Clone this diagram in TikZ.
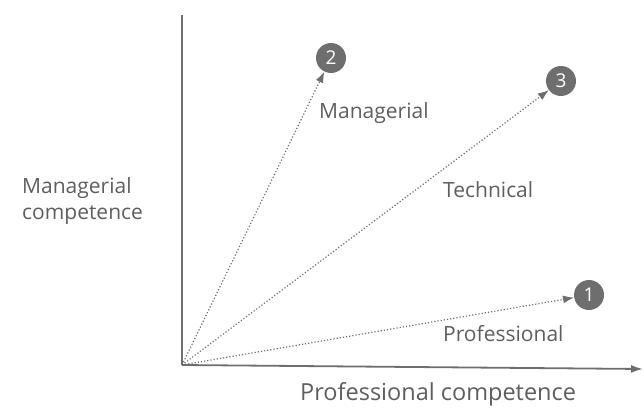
\documentclass[tikz,border=0pt]{standalone}
\usepackage{fontspec}
\setmainfont{Open Sans}
\usetikzlibrary{arrows.meta}
\definecolor{ax}{HTML}{6E6E6E}
\definecolor{txt}{HTML}{5E5E5E}
\begin{document}
\begin{tikzpicture}[x=1pt,y=-1pt,
  lbl/.style={text=txt,font=\fontsize{21}{26}\selectfont,inner sep=0pt},
  num/.style={circle,fill=ax,text=white,minimum size=30pt,inner sep=0pt,font=\fontsize{19}{19}\selectfont},
  vec/.style={draw=ax,line width=1.2pt,dotted,-{Latex[length=11pt,width=8pt]}},
  axis/.style={draw=ax,line width=1.8pt}]
\useasboundingbox (0,0) rectangle (644,409);
\coordinate (o) at (182,365);
\coordinate (top) at (182,15);
\coordinate (xend) at (643,369);
\node[num] (n2) at (331,58) {2};
\node[num] (n3) at (561,81) {3};
\node[num] (n1) at (589,295) {1};
\draw[axis] (top) -- (o);
\draw[axis,-{Latex[length=12pt,width=8pt]}] (o) -- (xend);
\draw[vec] (o) -- (n2);
\draw[vec] (o) -- (n3);
\draw[vec] (o) -- (n1);
\node[lbl,anchor=base west] (lm) at (319,118) {Managerial};
\node[lbl,anchor=base west] (lt) at (443,197) {Technical};
\node[lbl,anchor=base west] (lp) at (443,341) {Professional};
\node[lbl,align=left,anchor=north west] (ly) at (22,177) {Managerial\\competence};
\node[lbl,anchor=base west,font=\fontsize{23.5}{28}\selectfont] (lx) at (300,400) {Professional competence};
\end{tikzpicture}
\end{document}
